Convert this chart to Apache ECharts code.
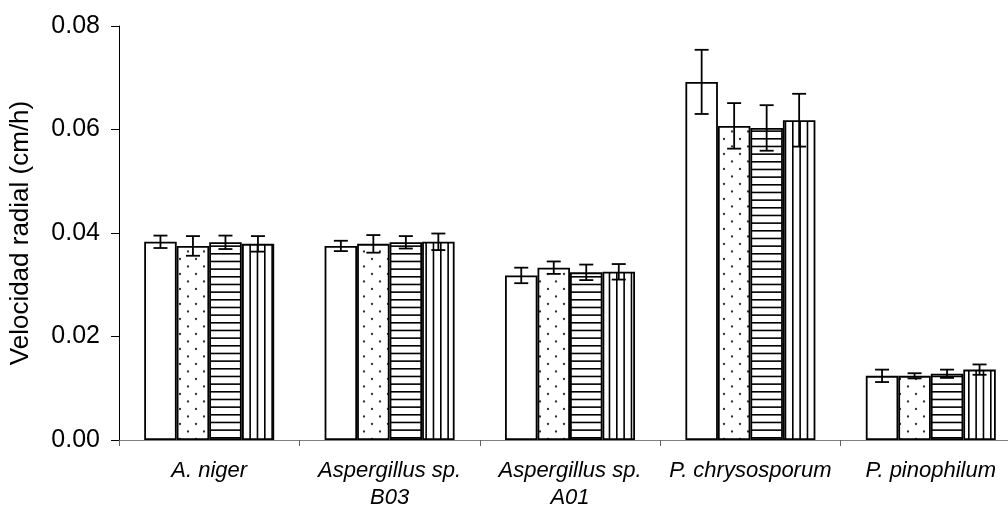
<!DOCTYPE html>
<html>
<head>
<meta charset="utf-8">
<script src="https://cdn.jsdelivr.net/npm/echarts@6/dist/echarts.min.js"></script>
<style>
html,body{margin:0;padding:0;background:#fff;}
#chart{width:1008px;height:510px;}
</style>
</head>
<body>
<div id="chart"></div>
<script>
// ---- data ----
const categories = ['A. niger', 'Aspergillus sp.\nB03', 'Aspergillus sp.\nA01', 'P. chrysosporum', 'P. pinophilum'];
const yTicks = [0, 0.02, 0.04, 0.06, 0.08];
const serie1 = [0.0383, 0.0375, 0.0318, 0.0692, 0.0124];
const serie1Err = [0.0012, 0.0010, 0.0015, 0.0062, 0.0012];
const serie2 = [0.0375, 0.0379, 0.0333, 0.0607, 0.0124];
const serie2Err = [0.0019, 0.0017, 0.0012, 0.0044, 0.0005];
const serie3 = [0.0382, 0.0382, 0.0324, 0.0603, 0.0128];
const serie3Err = [0.0013, 0.0012, 0.0015, 0.0044, 0.0008];
const serie4 = [0.0379, 0.0383, 0.0325, 0.0618, 0.0136];
const serie4Err = [0.0015, 0.0016, 0.0015, 0.0051, 0.0010];

// ---- patterns ----
function makePattern(kind) {
  const c = document.createElement('canvas');
  let w, h;
  if (kind === 'dots') { w = 16; h = 15; }
  else if (kind === 'hlines') { w = 4; h = 23; }
  else { w = 22; h = 4; }
  c.width = w; c.height = h;
  const ctx = c.getContext('2d');
  ctx.fillStyle = '#ffffff';
  ctx.fillRect(0, 0, w, h);
  ctx.fillStyle = '#000000';
  if (kind === 'dots') {
    ctx.fillStyle = '#333333';
    ctx.beginPath(); ctx.arc(4, 4, 1.15, 0, Math.PI * 2); ctx.fill();
    ctx.beginPath(); ctx.arc(12, 11.5, 1.15, 0, Math.PI * 2); ctx.fill();
  } else if (kind === 'hlines') {
    [0, 7.67, 15.33].forEach(y => ctx.fillRect(0, y, w, 1.6));
  } else {
    [0, 7.33, 14.67].forEach(x => ctx.fillRect(x, 0, 1.6, h));
  }
  return { image: c, repeat: 'repeat' };
}

const BAR_W = 32.5;
const seriesVals = [serie1, serie2, serie3, serie4];
const seriesErrs = [serie1Err, serie2Err, serie3Err, serie4Err];
const fills = ['#ffffff', makePattern('dots'), makePattern('hlines'), makePattern('vlines')];

const series = [];
seriesVals.forEach((vals, k) => {
  series.push({
    name: 'Serie ' + (k + 1),
    type: 'bar',
    data: vals,
    barWidth: BAR_W,
    barGap: '0%',
    itemStyle: { color: fills[k], borderColor: '#000', borderWidth: 1.8 },
    emphasis: { disabled: true },
    z: 2
  });
});
seriesVals.forEach((vals, k) => {
  series.push({
    type: 'custom',
    z: 5,
    data: vals.map((v, i) => [i, v, seriesErrs[k][i]]),
    renderItem: function (params, api) {
      const i = api.value(0), v = api.value(1), e = api.value(2);
      const off = (k - 1.5) * BAR_W;
      const top = api.coord([i, v + e]);
      const bot = api.coord([i, v - e]);
      const x = top[0] + off;
      const cap = 7;
      const st = { stroke: '#000', lineWidth: 1.8 };
      return {
        type: 'group',
        children: [
          { type: 'line', shape: { x1: x, y1: top[1], x2: x, y2: bot[1] }, style: st },
          { type: 'line', shape: { x1: x - cap, y1: top[1], x2: x + cap, y2: top[1] }, style: st },
          { type: 'line', shape: { x1: x - cap, y1: bot[1], x2: x + cap, y2: bot[1] }, style: st }
        ]
      };
    }
  });
});

const chart = echarts.init(document.getElementById('chart'), null, { renderer: 'canvas' });
chart.setOption({
  animation: false,
  backgroundColor: '#ffffff',
  textStyle: { fontFamily: 'Liberation Sans, Arial, sans-serif' },
  grid: { left: 119, width: 902, top: 26, bottom: 70, containLabel: false, outerBoundsMode: 'none' },
  xAxis: {
    type: 'category',
    data: categories,
    axisLine: { lineStyle: { color: '#808080', width: 1.2 } },
    axisTick: { show: true, length: 6, lineStyle: { color: '#606060', width: 1 } },
    axisLabel: {
      color: '#000', fontSize: 22, fontStyle: 'italic', margin: 17, lineHeight: 27,
      fontFamily: 'Liberation Sans, Arial, sans-serif', interval: 0
    },
    splitLine: { show: false }
  },
  yAxis: {
    type: 'value',
    min: yTicks[0],
    max: yTicks[yTicks.length - 1],
    interval: yTicks[1] - yTicks[0],
    name: 'Velocidad radial (cm/h)',
    nameLocation: 'middle',
    nameGap: 85,
    nameTextStyle: { color: '#000', fontSize: 26, fontFamily: 'Liberation Sans, Arial, sans-serif' },
    axisLine: { show: true, lineStyle: { color: '#000', width: 1 } },
    axisTick: { show: true, length: 8, lineStyle: { color: '#000', width: 1 } },
    axisLabel: {
      color: '#000', fontSize: 25, margin: 19,
      fontFamily: 'Liberation Sans, Arial, sans-serif',
      formatter: v => v.toFixed(2)
    },
    splitLine: { show: false }
  },
  series: series
});
</script>
</body>
</html>
